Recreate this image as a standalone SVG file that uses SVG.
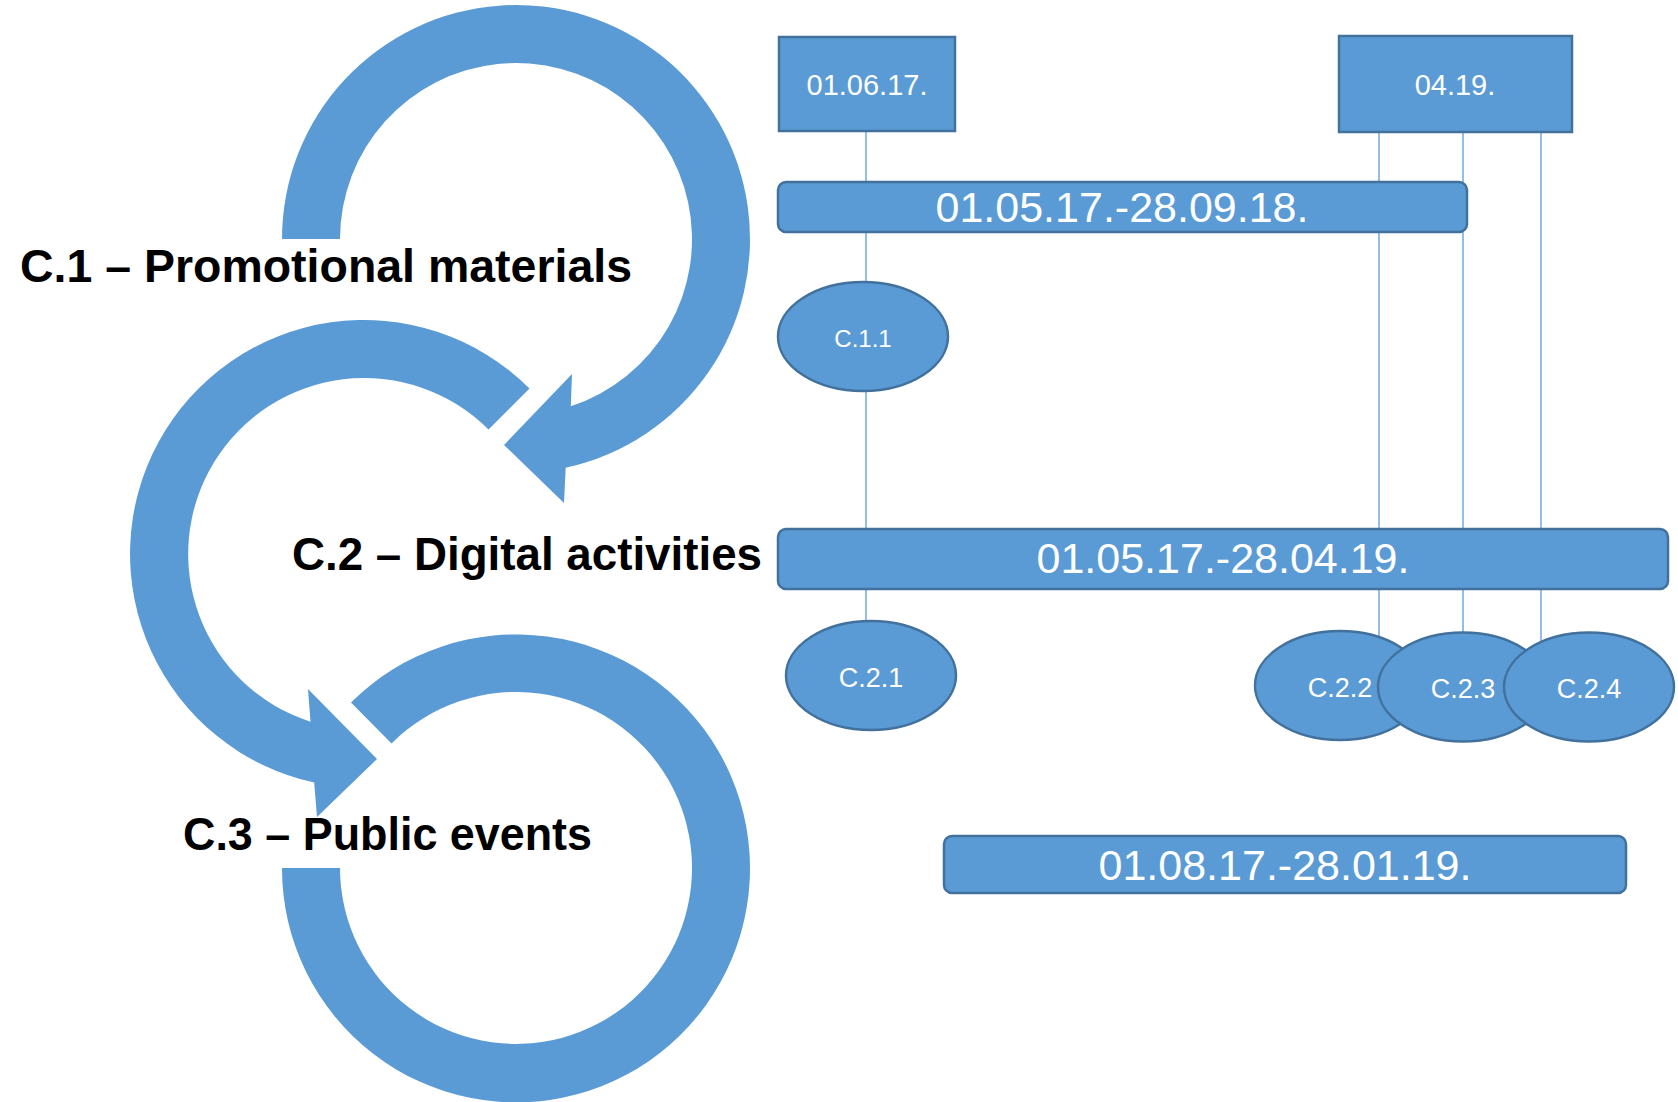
<svg xmlns="http://www.w3.org/2000/svg" width="1678" height="1102" viewBox="0 0 1678 1102">
<style>
.ring{fill:#5B9BD5;stroke:none}
.lbl{font-family:"Liberation Sans",Arial,sans-serif;font-weight:bold;font-size:46px;fill:#000}
.shape{fill:#5B9BD5;stroke:#41719C;stroke-width:2.5}
.wt{font-family:"Liberation Sans",Arial,sans-serif;fill:#fff;text-anchor:middle}
.big{font-size:43px}
.box{font-size:29px}
.sm{font-size:27px}
.conn{stroke:#5B9BD5;stroke-width:1.3;fill:none}
</style>
<rect width="1678" height="1102" fill="#fff"/>
<g id="rings">
<path id="ring1" class="ring" d="M 282 239 A 234 234 0 1 1 565.7 467.7 L 564 503 L 504 445 L 572 374 L 570.8 406.3 A 176 176 0 1 0 340 239 Z"/>
<path id="ring2" class="ring" d="M 529.5 388.5 A 234 234 0 1 0 314.2 782.6 L 317 817 L 377 759 L 308 689 L 310.5 721.7 A 176 176 0 1 1 488.5 429.5 Z"/>
<path id="ring3" class="ring" d="M 351 702.5 A 234 234 0 1 1 282 868 L 340 868 A 176 176 0 1 0 391.5 743.5 Z"/>
</g>
<g id="labels">
<text id="c1" class="lbl" x="20" y="282" textLength="612" lengthAdjust="spacingAndGlyphs">C.1 – Promotional materials</text>
<text id="c2" class="lbl" x="292" y="570" textLength="470" lengthAdjust="spacingAndGlyphs">C.2 – Digital activities</text>
<text id="c3" class="lbl" x="183" y="850" textLength="409" lengthAdjust="spacingAndGlyphs">C.3 – Public events</text>
</g>
<g id="connectors">
<line class="conn" x1="866" y1="131" x2="866" y2="622"/>
<line class="conn" x1="1379" y1="132" x2="1379" y2="637"/>
<line class="conn" x1="1463" y1="132" x2="1463" y2="634"/>
<line class="conn" x1="1541" y1="132" x2="1541" y2="641"/>
</g>
<g id="box0106">
<rect class="shape" x="779" y="37" width="176" height="94"/>
<text class="wt box" x="867" y="95">01.06.17.</text>
</g>
<g id="box0419">
<rect class="shape" x="1339" y="36" width="233" height="96"/>
<text class="wt box" x="1455" y="95">04.19.</text>
</g>
<g id="bar1">
<rect class="shape" x="778" y="182" width="689" height="50" rx="8"/>
<text class="wt big" x="1122" y="222">01.05.17.-28.09.18.</text>
</g>
<g id="c11">
<ellipse class="shape" cx="863" cy="336.5" rx="85" ry="54.5"/>
<text class="wt" font-size="24" x="863" y="347">C.1.1</text>
</g>
<g id="bar2">
<rect class="shape" x="778" y="529" width="890" height="60" rx="8"/>
<text class="wt big" x="1223" y="573">01.05.17.-28.04.19.</text>
</g>
<g id="c21">
<ellipse class="shape" cx="871" cy="675.5" rx="85" ry="54.5"/>
<text class="wt sm" x="871" y="687">C.2.1</text>
</g>
<g id="c22">
<ellipse class="shape" cx="1340" cy="685.5" rx="85" ry="54.5"/>
<text class="wt sm" x="1340" y="697">C.2.2</text>
</g>
<g id="c23">
<ellipse class="shape" cx="1463" cy="687" rx="85" ry="54.5"/>
<text class="wt sm" x="1463" y="698">C.2.3</text>
</g>
<g id="c24">
<ellipse class="shape" cx="1589" cy="687" rx="85" ry="54.5"/>
<text class="wt sm" x="1589" y="698">C.2.4</text>
</g>
<g id="bar3">
<rect class="shape" x="944" y="836" width="682" height="57" rx="8"/>
<text class="wt big" x="1285" y="880">01.08.17.-28.01.19.</text>
</g>
</svg>
